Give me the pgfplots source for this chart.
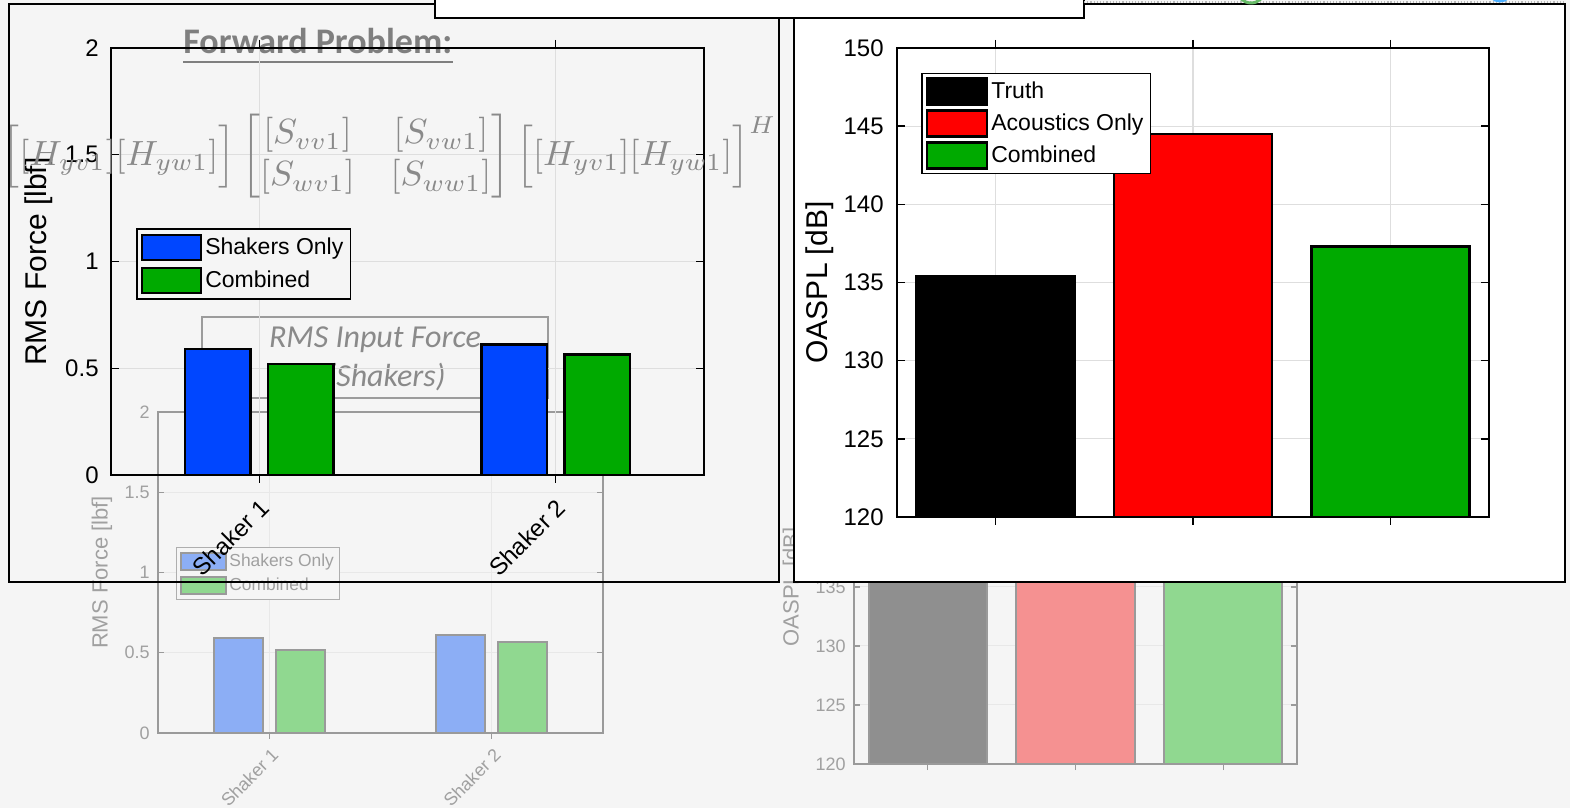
\documentclass[border=0pt]{standalone}
\usepackage[no-math]{fontspec}
\usepackage{amsmath}
\usepackage{graphicx}
\usepackage{pgfplots}
\pgfplotsset{compat=1.18}
\setmainfont{Liberation Sans}
\newfontfamily\carlito{Carlito}

\definecolor{slidebg}{HTML}{F5F5F5}
\definecolor{mblue}{RGB}{0,70,255}
\definecolor{mgreen}{RGB}{0,170,0}
\definecolor{mred}{RGB}{255,0,0}
\definecolor{gridgray}{HTML}{DEDEDE}
\definecolor{fadeblue}{RGB}{140,174,245}
\definecolor{fadegreen}{RGB}{144,216,144}
\definecolor{fadered}{RGB}{245,145,145}
\definecolor{fadegray}{RGB}{143,143,143}
\definecolor{fadeedge}{HTML}{9A9A9A}
\definecolor{fadetext}{HTML}{A0A0A0}
\definecolor{fadegrid}{HTML}{E8E8E8}
\definecolor{notegray}{HTML}{8A8A8A}
\definecolor{headgray}{HTML}{7F7F7F}

\pgfplotsset{
  swatch/.style n args={2}{legend image code/.code={\draw[##1] (0bp,-#2) rectangle (#1,#2);}},
  barbase/.style={
    scale only axis, anchor=south west,
    /pgf/number format/assume math mode=true,
    tick align=inside, grid=major, axis on top=false,
    ybar, legend cell align=left,
  },
  mainbar/.style={barbase,
    axis line style={black, line width=0.8bp},
    major tick length=4bp,
    tick style={black, line width=0.7bp},
    major grid style={gridgray, line width=0.6bp},
    tick label style={font=\fontsize{12bp}{14bp}\selectfont},
    yticklabel style={inner sep=0pt, xshift=-6bp},
    ylabel style={font=\fontsize{15bp}{17bp}\selectfont, anchor=center},
    legend style={draw=black, line width=0.8bp, font=\fontsize{11.5bp}{13bp}\selectfont,
      inner xsep=2bp, inner ysep=1bp, nodes={inner sep=1.5bp, minimum height=16.5bp}, row sep=0pt},
  },
  fadebar/.style={barbase,
    axis line style={fadeedge, line width=0.7bp},
    major tick length=3bp,
    tick style={fadeedge, line width=0.6bp},
    major grid style={fadegrid, line width=0.5bp},
    tick label style={font=\fontsize{9bp}{11bp}\selectfont, text=fadetext},
    yticklabel style={inner sep=0pt, xshift=-4bp},
    ylabel style={font=\fontsize{11bp}{13bp}\selectfont, text=fadetext, anchor=center},
    legend style={draw=fadeedge!80, line width=0.6bp, font=\fontsize{8.7bp}{10bp}\selectfont, text=fadetext,
      inner xsep=2bp, inner ysep=1bp, nodes={inner sep=1bp, minimum height=12bp}, row sep=0pt},
  },
}

\begin{document}
\begin{tikzpicture}
\useasboundingbox (0,0) rectangle (785bp,404bp);
\fill[slidebg] (0,0) rectangle (785bp,404bp);

% ---- background copy: RMS force per shaker
\begin{axis}[fadebar, at={(79bp,37.5bp)}, width=222.5bp, height=160.5bp,
  xmin=0.5, xmax=2.5, ymin=0, ymax=2, bar width=0.22,
  xtick={1,2}, xticklabels={Shaker 1,Shaker 2}, ytick={0,0.5,1,1.5,2},
  xticklabel style={xshift=0.5bp, yshift=-4bp, rotate=45, anchor=north east, inner sep=0pt},
  ylabel={RMS Force [lbf]}, ylabel style={at={(axis description cs:-0.1258,0.5)}},
  legend style={at={(0.04,0.579)}, anchor=north west, fill=slidebg}]
\addplot[fill=fadeblue, draw=fadeedge, line width=1bp, bar shift=-0.14, swatch={22.5bp}{4.25bp}]
  coordinates {(1,0.59) (2,0.61)};
\addplot[fill=fadegreen, draw=fadeedge, line width=1bp, bar shift=0.14, swatch={22.5bp}{4.25bp}]
  coordinates {(1,0.52) (2,0.565)};
\legend{Shakers Only, Combined}
\end{axis}

% ---- background copy: OASPL
\begin{axis}[fadebar, at={(427bp,22bp)}, width=221.5bp, height=177bp,
  xmin=0.5, xmax=3.5, ymin=120, ymax=150, bar width=0.8,
  xtick={1,2,3}, xticklabels={}, ytick={120,125,130,135,140,145,150},
  ylabel={OASPL [dB]}, ylabel style={at={(axis description cs:-0.1377,0.5)}}]
\addplot[fill=fadegray, draw=fadeedge, line width=1bp, bar shift=0pt] coordinates {(1,135.4)};
\addplot[fill=fadered, draw=fadeedge, line width=1bp, bar shift=0pt] coordinates {(2,144.5)};
\addplot[fill=fadegreen, draw=fadeedge, line width=1bp, bar shift=0pt] coordinates {(3,137.3)};
\end{axis}

% ---- slide annotations
\draw[notegray!85, line width=0.8bp] (101bp,205bp) rectangle (274bp,245.5bp);
\node[anchor=base, inner sep=0pt, text=notegray, font=\carlito\itshape\fontsize{16bp}{19bp}\selectfont]
  at (187.5bp,230bp) {RMS Input Force};
\node[anchor=base east, inner sep=0pt, text=notegray, font=\carlito\itshape\fontsize{16bp}{19bp}\selectfont]
  at (223bp,210.5bp) {(Shakers)};
\node[anchor=base west, inner sep=0pt, text=headgray, font=\carlito\bfseries\fontsize{18bp}{21bp}\selectfont]
  (fp) at (91.5bp,377bp) {Forward Problem:};
\draw[headgray, line width=1.2bp] ([yshift=-4bp]fp.base west) -- ([yshift=-4bp]fp.base east);

% ---- RMS force per shaker
\begin{axis}[mainbar, at={(55.5bp,166.5bp)}, width=296.5bp, height=213.5bp,
  xmin=0.5, xmax=2.5, ymin=0, ymax=2, bar width=0.22,
  xtick={1,2}, xticklabels={Shaker 1,Shaker 2}, ytick={0,0.5,1,1.5,2},
  xticklabel style={xshift=-0.5bp, yshift=-7bp, rotate=45, anchor=north east, inner sep=0pt},
  ylabel={RMS Force [lbf]}, ylabel style={at={(axis description cs:-0.1214,0.5)}},
  legend style={at={(0.042,0.578)}, anchor=north west, fill=slidebg}]
\addplot[fill=mblue, draw=black, line width=1.3bp, bar shift=-0.14, swatch={29.5bp}{6.25bp}]
  coordinates {(1,0.59) (2,0.61)};
\addplot[fill=mgreen, draw=black, line width=1.3bp, bar shift=0.14, swatch={29.5bp}{6.25bp}]
  coordinates {(1,0.52) (2,0.565)};
\legend{Shakers Only, Combined}
\end{axis}

% ---- forward problem expression
\node[anchor=north west, inner sep=0pt, text=notegray] at (1bp,347bp)
  {\resizebox*{387bp}{42bp}{$\displaystyle
   \Big[[H_{yv1}][H_{yw1}]\Big]
   \begin{bmatrix}[S_{vv1}] & [S_{vw1}]\\ [S_{wv1}] & [S_{ww1}]\end{bmatrix}
   \Big[[H_{yv1}][H_{yw1}]\Big]^{H}$}};

\draw[black, line width=1bp] (4.5bp,113bp) rectangle (389.5bp,402bp);
\filldraw[fill=white, draw=black, line width=1bp] (397bp,113bp) rectangle (782.5bp,402bp);

% ---- OASPL comparison
\begin{axis}[mainbar, at={(448.5bp,145.5bp)}, width=296bp, height=234.5bp,
  xmin=0.5, xmax=3.5, ymin=120, ymax=150, bar width=0.8,
  xtick={1,2,3}, xticklabels={}, ytick={120,125,130,135,140,145,150},
  yticklabel style={xshift=-0.5bp},
  ylabel={OASPL [dB]}, ylabel style={at={(axis description cs:-0.130,0.5)}},
  legend style={at={(0.0405,0.947)}, anchor=north west, fill=white, nodes={minimum height=16bp}}]
\addplot[fill=black, draw=black, line width=1.3bp, bar shift=0pt, swatch={30bp}{6.5bp}] coordinates {(1,135.4)};
\addplot[fill=mred, draw=black, line width=1.3bp, bar shift=0pt, swatch={30bp}{6.5bp}] coordinates {(2,144.5)};
\addplot[fill=mgreen, draw=black, line width=1.3bp, bar shift=0pt, swatch={30bp}{6.5bp}] coordinates {(3,137.3)};
\legend{Truth, Acoustics Only, Combined}
\end{axis}

\filldraw[fill=white, draw=black, line width=1bp] (217.5bp,395bp) rectangle (542bp,410bp);
\draw[gray!55, densely dotted, line width=0.6bp] (542bp,403bp) -- (782bp,403bp);
\draw[green!55!black!60, line width=1.5bp] (625.5bp,409.5bp) circle (7bp);
\draw[blue!45!cyan!70, line width=1.5bp] (750bp,409.5bp) circle (6bp);
\end{tikzpicture}
\end{document}
